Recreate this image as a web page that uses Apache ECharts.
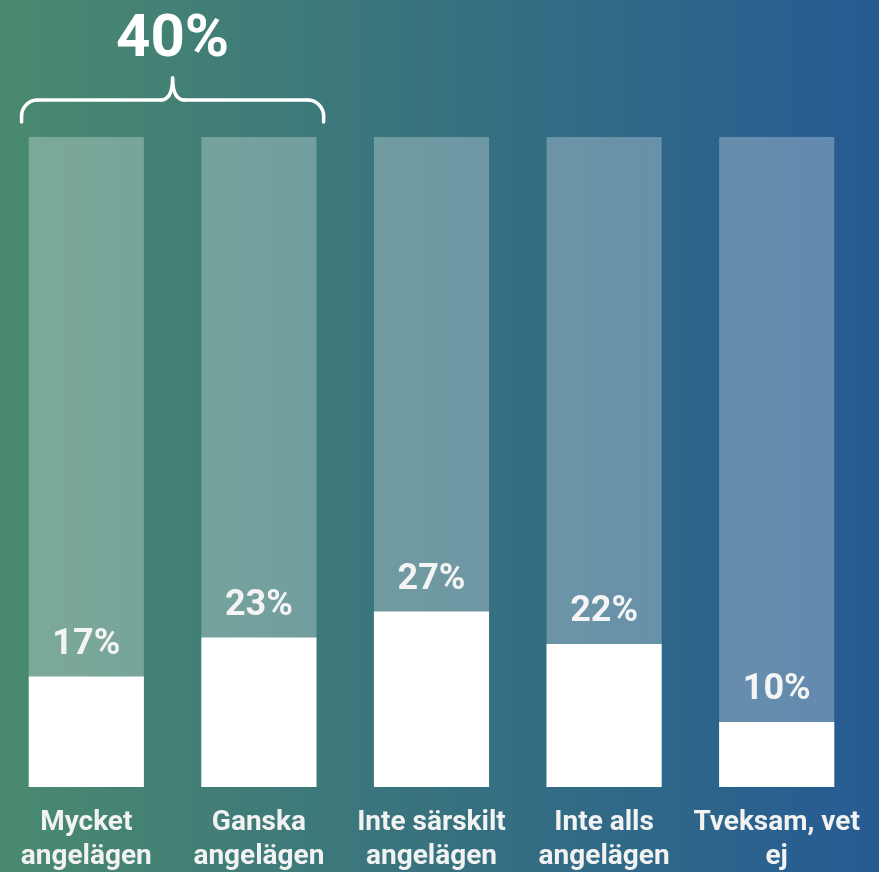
<!DOCTYPE html>
<html><head><meta charset="utf-8">
<script src="https://cdn.jsdelivr.net/npm/echarts@6/dist/echarts.min.js"></script>
<style>html,body{margin:0;padding:0;}#c{width:879px;height:872px;}</style>
</head><body><div id="c"></div>
<script>
const categories = ['Mycket\nangelägen', 'Ganska\nangelägen', 'Inte särskilt\nangelägen', 'Inte alls\nangelägen', 'Tveksam, vet\nej'];
const values = [17, 23, 27, 22, 10];
const totalValues = [100, 100, 100, 100, 100];
const braceLabel = '40%';
const braceCategories = [0, 1];

const chart = echarts.init(document.getElementById('c'));
const font = 'Roboto, "Noto Sans", sans-serif';
const option = {
  backgroundColor: {
    type: 'linear', x: 0, y: 0, x2: 1, y2: 0,
    colorStops: [
      { offset: 0, color: '#4a8a6f' },
      { offset: 0.5, color: '#37727f' },
      { offset: 1, color: '#265b93' }
    ]
  },
  animation: false,
  grid: { left: 0, right: 16, top: 137, bottom: 85, containLabel: false, outerBoundsMode: 'none' },
  xAxis: {
    type: 'category', data: categories,
    axisLine: { show: false }, axisTick: { show: false },
    axisLabel: {
      interval: 0, color: '#f2f2f2', fontSize: 28, fontWeight: 'bold',
      fontFamily: font, lineHeight: 34, margin: 19
    }
  },
  yAxis: { type: 'value', min: 0, max: 100, show: false, splitLine: { show: false } },
  series: [
    {
      type: 'bar', data: totalValues, barCategoryGap: '33.3%', barGap: '-100%',
      itemStyle: { color: 'rgba(255,255,255,0.28)' }, silent: true, z: 1
    },
    {
      type: 'bar', data: values, barCategoryGap: '33.3%', barGap: '-100%',
      itemStyle: { color: '#ffffff' }, z: 2,
      label: {
        show: true, position: 'top', distance: 14, formatter: '{c}%',
        color: '#f4f4f4', fontSize: 36, fontWeight: 'bold', fontFamily: font
      }
    }
  ]
};
chart.setOption(option);

function drawBrace() {
  const a = chart.convertToPixel({ xAxisIndex: 0 }, braceCategories[0]);
  const b = chart.convertToPixel({ xAxisIndex: 0 }, braceCategories[1]);
  const top = chart.convertToPixel({ yAxisIndex: 0 }, 100);
  const halfBand = (b - a) / 2;
  const x1 = a - halfBand * 0.75, x2 = b + halfBand * 0.75;
  const mid = (x1 + x2) / 2;
  const yEnd = top - 15, yLine = top - 37, yTip = top - 59;
  const r = 16, k = 0.55 * r, tw = 12;
  const st = { stroke: '#ffffff', lineWidth: 3.5, fill: null, lineCap: 'round' };
  const els = [
    { type: 'line', shape: { x1: x1, y1: yEnd, x2: x1, y2: yLine + r } },
    { type: 'bezierCurve', shape: { x1: x1, y1: yLine + r, x2: x1 + r, y2: yLine, cpx1: x1, cpy1: yLine + r - k, cpx2: x1 + r - k, cpy2: yLine } },
    { type: 'line', shape: { x1: x1 + r, y1: yLine, x2: mid - tw, y2: yLine } },
    { type: 'bezierCurve', shape: { x1: mid - tw, y1: yLine, x2: mid, y2: yTip, cpx1: mid - 3, cpy1: yLine, cpx2: mid, cpy2: yLine - 8 } },
    { type: 'bezierCurve', shape: { x1: mid, y1: yTip, x2: mid + tw, y2: yLine, cpx1: mid, cpy1: yLine - 8, cpx2: mid + 3, cpy2: yLine } },
    { type: 'line', shape: { x1: mid + tw, y1: yLine, x2: x2 - r, y2: yLine } },
    { type: 'bezierCurve', shape: { x1: x2 - r, y1: yLine, x2: x2, y2: yLine + r, cpx1: x2 - r + k, cpy1: yLine, cpx2: x2, cpy2: yLine + r - k } },
    { type: 'line', shape: { x1: x2, y1: yLine + r, x2: x2, y2: yEnd } }
  ].map(e => Object.assign(e, { style: st, z: 10, silent: true }));
  els.push({ type: 'text', x: mid, y: yTip - 37, z: 10, style: { text: braceLabel, fill: '#ffffff', font: `bold 60px ${font}`, textAlign: 'center', textVerticalAlign: 'middle' } });
  chart.setOption({ graphic: els });
}
drawBrace();
</script>
</body></html>
